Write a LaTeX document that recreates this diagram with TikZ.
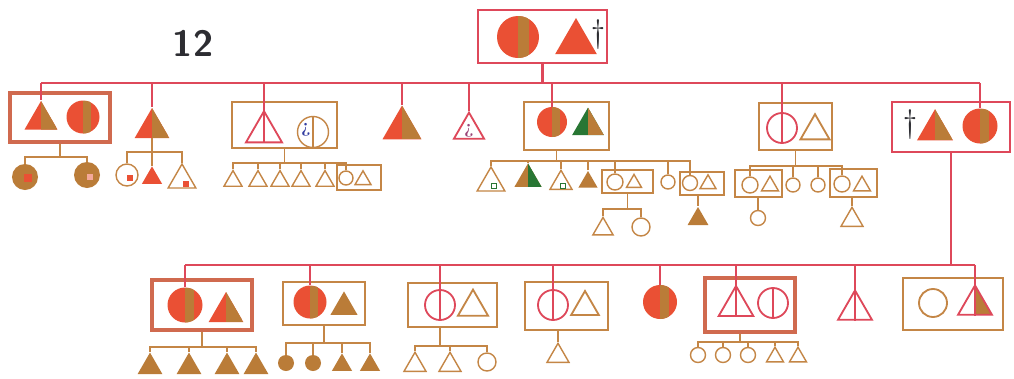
\documentclass[tikz,border=0pt]{standalone}
\usetikzlibrary{shapes.geometric,fit,calc}
\definecolor{lred}{RGB}{222,72,90}
\definecolor{lbrn}{RGB}{196,134,70}
\definecolor{fred}{RGB}{234,80,52}
\definecolor{fbrn}{RGB}{186,124,56}
\definecolor{fgrn}{RGB}{40,118,52}
\definecolor{pen}{RGB}{45,45,50}
\definecolor{qblue}{RGB}{50,60,160}
\tikzset{
  redl/.style={draw=lred, line width=1.5pt},
  brnl/.style={draw=lbrn, line width=1.3pt},
  sml/.style={draw=lbrn, line width=1pt},
  fem/.style={circle, inner sep=0pt, minimum size=#1},
  mal/.style={regular polygon, regular polygon sides=3, inner sep=0pt, minimum size=#1},
  half/.style 2 args={fill=#1, path picture={\fill[#2] (path picture bounding box.north) rectangle (path picture bounding box.south east);}},
  band/.style 2 args={fill=#1, path picture={\fill[#2] (path picture bounding box.north) rectangle ($(path picture bounding box.south)!.5!(path picture bounding box.south east)$);}},
  cbox/.style={rectangle, inner sep=0pt, line width=1.3pt, draw=lbrn},
  rbox/.style={cbox, draw=lred, line width=1.5pt},
  tbox/.style={cbox, draw=lred!45!lbrn, line width=2.6pt},
  bit/.style={rectangle, inner sep=0pt, minimum size=#1},
  dag/.style={font=\fontsize{23}{23}\selectfont, text=pen, inner sep=0pt},
  qmark/.style={font=\bfseries\fontsize{13}{13}\selectfont, inner sep=0pt}
}
\begin{document}
\begin{tikzpicture}[x=0.25mm,y=-0.25mm]
\path[use as bounding box, fill=white] (0,0) rectangle (1014,378);
\node[font=\sffamily\bfseries\fontsize{26}{26}\selectfont, text=pen] (nr) at (193,43) {12};

\node[fem=10.5mm, band={fred}{fbrn}] (gm) at (518,37) {};
\node[mal=12mm, fill=fred] (gp) at (576,42) {};
\node[dag] (x1) at (598,35) {\textdagger};
\node[rbox, fit={(478,10) (607,63)}] (top) {};

\node[mal=9.5mm, half={fred}{fbrn}] (a1) at (41,120) {};
\node[fem=8.25mm, band={fred}{fbrn}] (a2) at (83,117) {};
\node[tbox, fit={(10,93) (110,142)}] (b1) {};
\node[fem=6.5mm, fill=fbrn] (c11) at (25,177) {};
\node[bit=2mm, fill=fred] (m11) at (28,178) {};
\node[fem=6.5mm, fill=fbrn] (c12) at (87,175) {};
\node[bit=1.6mm, fill=fred!50!white] (m12) at (90,177) {};

\node[mal=10mm, half={fred}{fbrn}] (a3) at (152,128) {};
\node[fem=5.5mm, sml] (c21) at (127,175) {};
\node[bit=1.3mm, fill=fred] (m21) at (130,178) {};
\node[mal=5.8mm, fill=fred] (c22) at (152,178) {};
\node[mal=8mm, sml] (c23) at (182,180) {};
\node[bit=1.5mm, fill=fred] (m23) at (186,184) {};

\node[mal=10.4mm, draw=lred, line width=1.3pt] (a4) at (264,132) {};
\node[fem=7.75mm, sml] (a5) at (313,132) {};
\node[qmark, text=qblue] (q1) at (306,130) {¿};
\node[cbox, fit={(232,102) (337,148)}] (b3) {};
\foreach \x [count=\i] in {233,258,280,301,325}
  \node[mal=5.2mm, sml] (c3\i) at (\x,181) {};
\node[fem=3.5mm, sml] (c36) at (346,178) {};
\node[mal=4.6mm, sml] (c37) at (363,180) {};
\node[cbox, line width=1pt, fit={(337,165) (381,190)}] (c3b) {};

\node[mal=11.25mm, half={fred}{fbrn}] (a6) at (402,128) {};
\node[mal=8.7mm, draw=lred, line width=1.3pt] (a7) at (469,130) {};
\node[qmark, text=lred!60!qblue] (q2) at (469,131) {¿};

\node[fem=7.5mm, band={fred}{fbrn}] (a8) at (552,122) {};
\node[mal=9.2mm, half={fgrn}{fbrn}] (a9) at (588,126) {};
\node[cbox, fit={(524,102) (609,150)}] (b6) {};
\node[mal=8mm, sml] (c61) at (491,183) {};
\node[bit=1.4mm, draw=fgrn, line width=0.8pt] (m61) at (494,186) {};
\node[mal=7.8mm, half={fbrn}{fgrn}] (c62) at (528,179) {};
\node[mal=6.35mm, sml] (c63) at (561,183) {};
\node[bit=1.2mm, draw=fgrn, line width=0.8pt] (m63) at (563,186) {};
\node[mal=5.5mm, fill=fbrn] (c64) at (588,182) {};
\node[fem=4mm, sml] (c65) at (615,182) {};
\node[mal=4.3mm, sml] (c66) at (634,183) {};
\node[cbox, line width=1pt, fit={(602,170) (653,193)}] (c6b) {};
\node[fem=3.5mm, sml] (c67) at (668,182) {};
\node[fem=3.75mm, sml] (c68) at (690,183) {};
\node[mal=4.6mm, sml] (c69) at (708,184) {};
\node[cbox, line width=1pt, fit={(680,172) (724,195)}] (c6c) {};
\node[mal=5.8mm, sml] (g61) at (603,229) {};
\node[fem=4.5mm, sml] (g62) at (641,227) {};
\node[mal=6mm, fill=fbrn] (g63) at (698,219) {};

\node[fem=7.5mm, draw=lred, line width=1.3pt] (a10) at (782,128) {};
\node[mal=8.4mm, sml, line width=1.3pt] (a11) at (815,131) {};
\node[cbox, fit={(759,103) (832,150)}] (b7) {};
\node[fem=4mm, sml] (c71) at (750,185) {};
\node[mal=4.9mm, sml] (c72) at (770,186) {};
\node[cbox, line width=1pt, fit={(735,170) (782,197)}] (c7b) {};
\node[fem=3.5mm, sml] (c73) at (793,185) {};
\node[fem=3.5mm, sml] (c74) at (818,185) {};
\node[fem=4mm, sml] (c75) at (842,184) {};
\node[mal=4.9mm, sml] (c76) at (862,186) {};
\node[cbox, line width=1pt, fit={(830,169) (877,197)}] (c7c) {};
\node[fem=3.75mm, sml] (g71) at (758,218) {};
\node[mal=6.35mm, sml] (g72) at (852,220) {};

\node[dag] (x8) at (910,125) {\textdagger};
\node[mal=10.4mm, half={fred}{fbrn}] (a12) at (935,130) {};
\node[fem=8.75mm, band={fred}{fbrn}] (a13) at (980,126) {};
\node[rbox, fit={(892,102) (1010,152)}] (b8) {};

\node[fem=8.75mm, band={fred}{fbrn}] (d1) at (185,305) {};
\node[mal=10mm, half={fred}{fbrn}] (d2) at (226,312) {};
\node[tbox, fit={(152,280) (252,330)}] (bA) {};
\foreach \x [count=\i] in {150,189,227,256}
  \node[mal=7.2mm, fill=fbrn] (e1\i) at (\x,367) {};

\node[fem=8.25mm, band={fred}{fbrn}] (d3) at (310,302) {};
\node[mal=7.8mm, fill=fbrn] (d4) at (344,307) {};
\node[cbox, fit={(283,282) (365,325)}] (bB) {};
\node[fem=4mm, fill=fbrn] (e21) at (286,363) {};
\node[fem=4mm, fill=fbrn] (e22) at (313,363) {};
\node[mal=5.8mm, fill=fbrn] (e23) at (342,365) {};
\node[mal=5.8mm, fill=fbrn] (e24) at (370,365) {};

\node[fem=7.5mm, draw=lred, line width=1.3pt] (d5) at (440,305) {};
\node[mal=8.7mm, sml, line width=1.3pt] (d6) at (473,307) {};
\node[cbox, fit={(408,283) (497,327)}] (bC) {};
\node[mal=6.35mm, sml] (e31) at (415,365) {};
\node[mal=6.35mm, sml] (e32) at (450,365) {};
\node[fem=4.5mm, sml] (e33) at (487,362) {};

\node[fem=7.5mm, draw=lred, line width=1.3pt] (d7) at (553,305) {};
\node[mal=8mm, sml, line width=1.3pt] (d8) at (585,307) {};
\node[cbox, fit={(525,282) (608,330)}] (bD) {};
\node[mal=6.35mm, sml] (e41) at (558,356) {};

\node[fem=8.5mm, band={fred}{fbrn}] (d9) at (660,302) {};

\node[mal=10mm, draw=lred, line width=1.3pt] (d10) at (736,306) {};
\node[fem=7.5mm, draw=lred, line width=1.3pt] (d11) at (773,303) {};
\node[tbox, fit={(705,278) (795,332)}] (bF) {};
\foreach \x [count=\i] in {698,723,748}
  \node[fem=3.75mm, sml] (e5\i) at (\x,355) {};
\node[mal=4.9mm, sml] (e54) at (775,357) {};
\node[mal=4.9mm, sml] (e55) at (798,357) {};

\node[mal=9.8mm, draw=lred, line width=1.3pt] (d12) at (855,310) {};

\node[fem=7mm, sml, line width=1.3pt] (d13) at (933,303) {};
\node[mal=9.8mm, draw=lred, line width=1.3pt, half={white}{fbrn}] (d14) at (975,305) {};
\node[cbox, fit={(903,278) (1003,330)}] (bH) {};

\coordinate (s1) at (0,83);
\coordinate (s2) at (0,265);
\draw[redl] (top.south) -- (top.south |- s1);
\draw[redl] (a1.north |- s1) -- (a13.north |- s1);
\foreach \n in {a1,a3,a6,a7,a8,a13}
  \draw[redl] (\n.north |- s1) -- (\n.north);
\foreach \n in {a4,a10}
  \draw[redl] (\n.north |- s1) -- (\n.south);
\draw[brnl] (a5.north) -- (a5.south);

\draw[brnl] (b1.south) -- ++(0,13) coordinate (j1);
\draw[brnl] (c11.north) |- (j1) -| (c12.north);
\draw[brnl] (a3.south) -- ++(0,14) coordinate (j2);
\draw[brnl] (c21.north) |- (j2) -| (c23.north);
\draw[brnl] (c22.north) -- (c22.north |- j2);
\draw[brnl] (b3.south) -- ++(0,14) coordinate (j3);
\draw[brnl] (c31.north) |- (j3) -| (c36.north);
\foreach \n in {c32,c33,c34,c35}
  \draw[brnl] (\n.north) -- (\n.north |- j3);

\draw[brnl] ([xshift=-2.5mm]b6.south) -- ++(0,10) coordinate (j6);
\draw[brnl] (c61.north) |- (j6) -| (c68.north);
\foreach \n in {c62,c63,c64,c65,c67}
  \draw[brnl] (\n.north) -- (\n.north |- j6);
\draw[brnl] (c6b.south) -- ++(0,15) coordinate (k1);
\draw[brnl] (g61.north) |- (k1) -| (g62.north);
\draw[brnl] (g63.north |- c6c.south) -- (g63.north);

\draw[brnl] (b7.south) -- ++(0,15) coordinate (j7);
\draw[brnl] (c71.north) |- (j7) -| (c75.north);
\foreach \n in {c73,c74}
  \draw[brnl] (\n.north) -- (\n.north |- j7);
\draw[brnl] (g71.north |- c7b.south) -- (g71.north);
\draw[brnl] (g72.north |- c7c.south) -- (g72.north);

\draw[redl] (b8.south) -- (b8.south |- s2);
\draw[redl] (d1.north |- s2) -- (d14.north |- s2);
\foreach \n in {d1,d3,d9}
  \draw[redl] (\n.north |- s2) -- (\n.north);
\foreach \n in {d5,d7,d10,d12,d14}
  \draw[redl] (\n.north |- s2) -- (\n.south);
\draw[redl] (d11.north) -- (d11.south);

\draw[brnl] (bA.south) -- ++(0,15) coordinate (j8);
\draw[brnl] (e11.north) |- (j8) -| (e14.north);
\foreach \n in {e12,e13}
  \draw[brnl] (\n.north) -- (\n.north |- j8);
\draw[brnl] (bB.south) -- ++(0,17) coordinate (j9);
\draw[brnl] (e21.north) |- (j9) -| (e24.north);
\foreach \n in {e22,e23}
  \draw[brnl] (\n.north) -- (\n.north |- j9);
\draw[brnl] (d5 |- bC.south) -- ++(0,18) coordinate (j10);
\draw[brnl] (e31.north) |- (j10) -| (e33.north);
\draw[brnl] (e32.north) -- (e32.north |- j10);
\draw[brnl] (e41.north |- bD.south) -- (e41.north);
\draw[brnl] ([xshift=-2.5mm]bF.south) -- ++(0,8) coordinate (j11);
\draw[brnl] (e51.north) |- (j11) -| (e55.north);
\foreach \n in {e52,e53,e54}
  \draw[brnl] (\n.north) -- (\n.north |- j11);
\end{tikzpicture}
\end{document}
